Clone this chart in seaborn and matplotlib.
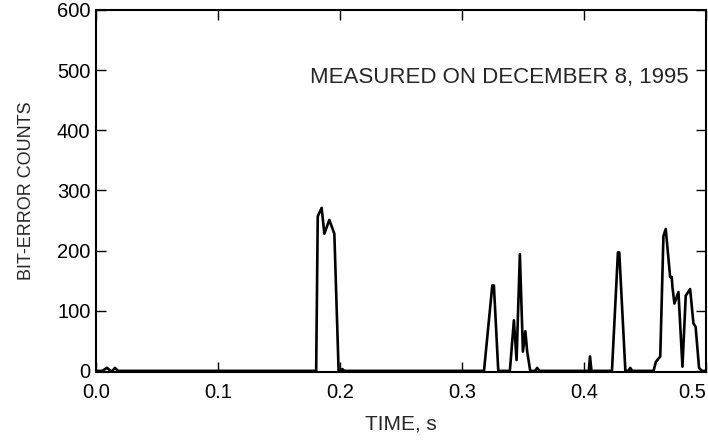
import matplotlib
matplotlib.use('Agg')
import matplotlib.pyplot as plt
import numpy as np
import pandas as pd
import seaborn as sns

# bit-error counts, time in seconds
time_s = [0.000, 0.005, 0.009, 0.012, 0.0135, 0.0155, 0.018, 0.180,
          0.1805, 0.1818, 0.1850, 0.1872, 0.1913, 0.1954, 0.1989, 0.2005, 0.202, 0.2035,
          0.3181, 0.3249, 0.3262, 0.3298,
          0.3393, 0.3426, 0.3448, 0.3475, 0.3500, 0.3520, 0.3535, 0.3560,
          0.3600, 0.3617, 0.3635,
          0.4040, 0.4050, 0.4062,
          0.4230, 0.4279, 0.4290, 0.4340, 0.4365, 0.4380, 0.4395,
          0.4571, 0.4590, 0.4626, 0.4652, 0.4671, 0.4707, 0.4720, 0.4726, 0.4742,
          0.4775, 0.4808, 0.4835, 0.4871, 0.4898, 0.4916, 0.4944, 0.4966, 0.499]
counts = [0, 0, 5, 0, 0, 5, 0, 0,
          0, 257, 271, 228, 251, 228, 0, 0, 3, 0,
          0, 142, 142, 0,
          0, 84, 18, 194, 32, 66, 32, 0,
          0, 5, 0,
          0, 24, 0,
          0, 197, 197, 0, 0, 5, 0,
          0, 15, 24, 224, 236, 156, 156, 139, 112,
          131, 7, 125, 136, 79, 73, 5, 0, 0]
xticks = [0.0, 0.1, 0.2, 0.3, 0.4, 0.5]
yticks = [0, 100, 200, 300, 400, 500, 600]

df = pd.DataFrame({'time': time_s, 'counts': counts})

sns.set_style('ticks')
plt.rcParams['font.family'] = ['Liberation Sans', 'DejaVu Sans']
plt.rcParams['xtick.direction'] = 'in'
plt.rcParams['ytick.direction'] = 'in'

fig = plt.figure(figsize=(7.08, 4.44), dpi=100)
ax = fig.add_axes([0.1356, 0.162, 0.8614, 0.8155])
sns.lineplot(data=df, x='time', y='counts', estimator=None, sort=False,
             color='black', linewidth=1.9, ax=ax)

ax.set_xlim(0, 0.499)
ax.set_ylim(-2, 596)
ax.set_xticks(xticks)
ax.set_xticklabels(['%.1f' % t for t in xticks])
ax.set_yticks(yticks)
ax.tick_params(axis='both', which='both', top=True, right=True, length=7,
               width=1, labelsize=14.5, color='black', labelcolor='black')
ax.tick_params(axis='x', pad=8)
ax.tick_params(axis='y', pad=4)
# last label sits at the figure edge
ax.get_xticklabels()[-1].set_ha('right')
for sp in ax.spines.values():
    sp.set_visible(True)
    sp.set_linewidth(1.5)
    sp.set_color('black')

ax.set_xlabel('TIME, s', fontsize=15)
ax.set_ylabel('BIT-ERROR COUNTS', fontsize=13)
ax.xaxis.set_label_coords(0.5, -0.118)
ax.yaxis.set_label_coords(-0.1, 0.5)
ax.text(0.4857, 487, 'MEASURED ON DECEMBER 8, 1995', ha='right', va='center',
        fontsize=16)

plt.savefig('out.png', dpi=100)
